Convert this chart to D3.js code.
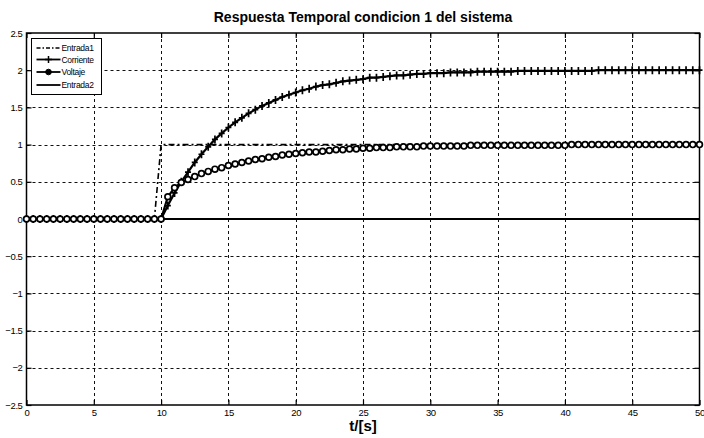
<!DOCTYPE html>
<html>
<head>
<meta charset="utf-8">
<script src="https://cdn.jsdelivr.net/npm/d3@7"></script>
<style>
  body { margin: 0; background: #fff; }
  svg { font-family: "Liberation Sans", Arial, sans-serif; }
</style>
</head>
<body>
<div id="plot"></div>
<script>
// sample times (s)
const tiempo = [0,0.5,1,1.5,2,2.5,3,3.5,4,4.5,5,5.5,6,6.5,7,7.5,8,8.5,9,9.5,
  10,10.5,11,11.5,12,12.5,13,13.5,14,14.5,15,15.5,16,16.5,17,17.5,18,18.5,19,19.5,
  20,20.5,21,21.5,22,22.5,23,23.5,24,24.5,25,25.5,26,26.5,27,27.5,28,28.5,29,29.5,
  30,30.5,31,31.5,32,32.5,33,33.5,34,34.5,35,35.5,36,36.5,37,37.5,38,38.5,39,39.5,
  40,40.5,41,41.5,42,42.5,43,43.5,44,44.5,45,45.5,46,46.5,47,47.5,48,48.5,49,49.5,50];

const entrada1 = [0,0,0,0,0,0,0,0,0,0,0,0,0,0,0,0,0,0,0,0,
  1,1,1,1,1,1,1,1,1,1,1,1,1,1,1,1,1,1,1,1,
  1,1,1,1,1,1,1,1,1,1,1,1,1,1,1,1,1,1,1,1,
  1,1,1,1,1,1,1,1,1,1,1,1,1,1,1,1,1,1,1,1,
  1,1,1,1,1,1,1,1,1,1,1,1,1,1,1,1,1,1,1,1,1];

const corriente = [0,0,0,0,0,0,0,0,0,0,0,0,0,0,0,0,0,0,0,0,0,
  0.18,0.35,0.50,0.63,0.76,0.87,0.97,1.07,1.15,1.23,
  1.30,1.36,1.42,1.47,1.52,1.56,1.60,1.64,1.67,1.70,
  1.73,1.75,1.78,1.80,1.81,1.83,1.85,1.86,1.87,1.88,
  1.90,1.90,1.91,1.92,1.93,1.93,1.94,1.95,1.95,1.96,
  1.96,1.96,1.97,1.97,1.97,1.97,1.98,1.98,1.98,1.98,
  1.98,1.98,1.99,1.99,1.99,1.99,1.99,1.99,1.99,1.99,
  1.99,1.99,1.99,1.99,2.00,2.00,2.00,2.00,2.00,2.00,
  2.00,2.00,2.00,2.00,2.00,2.00,2.00,2.00,2.00,2.00];

const voltaje = [0,0,0,0,0,0,0,0,0,0,0,0,0,0,0,0,0,0,0,0,0,
  0.30,0.42,0.49,0.53,0.57,0.61,0.64,0.67,0.69,0.72,
  0.74,0.76,0.78,0.80,0.81,0.83,0.84,0.86,0.87,0.88,
  0.89,0.90,0.90,0.91,0.92,0.93,0.93,0.94,0.94,0.95,
  0.95,0.96,0.96,0.96,0.97,0.97,0.97,0.97,0.98,0.98,
  0.98,0.98,0.98,0.98,0.98,0.99,0.99,0.99,0.99,0.99,
  0.99,0.99,0.99,0.99,0.99,0.99,0.99,0.99,0.99,0.99,
  1.00,1.00,1.00,1.00,1.00,1.00,1.00,1.00,1.00,1.00,
  1.00,1.00,1.00,1.00,1.00,1.00,1.00,1.00,1.00,1.00];

const entrada2 = tiempo.map(() => 0);

const xTicks = [0,5,10,15,20,25,30,35,40,45,50];
const yTicks = [-2.5,-2,-1.5,-1,-0.5,0,0.5,1,1.5,2,2.5];
const nombres = ["Entrada1","Corriente","Voltaje","Entrada2"];

const W = 704, H = 438;
const pLeft = 26.5, pRight = 699.5, pTop = 33, pBottom = 405;

const svg = d3.select("#plot").append("svg")
  .attr("width", W).attr("height", H);

const x = d3.scaleLinear().domain([0,50]).range([pLeft, pRight]);
const y = d3.scaleLinear().domain([-2.5,2.5]).range([pBottom, pTop]);

// grid
const grid = svg.append("g").attr("stroke", "#111").attr("stroke-width", 1)
  .attr("stroke-dasharray", "3,3");
grid.selectAll(".gx").data(xTicks.slice(1, -1)).enter().append("line")
  .attr("x1", d => Math.round(x(d)) + 0.5).attr("x2", d => Math.round(x(d)) + 0.5)
  .attr("y1", pTop).attr("y2", pBottom);
grid.selectAll(".gy").data(yTicks.slice(1, -1)).enter().append("line")
  .attr("y1", d => Math.round(y(d)) + 0.5).attr("y2", d => Math.round(y(d)) + 0.5)
  .attr("x1", pLeft).attr("x2", pRight);

// axes
function styleAxis(g) {
  g.select(".domain").remove();
  g.selectAll(".tick line").attr("stroke", "#000").attr("stroke-width", 1.2);
  g.selectAll(".tick text").attr("font-size", 9.5).attr("fill", "#000")
    .attr("letter-spacing", -0.4);
}
svg.append("g").attr("transform", `translate(0,${pBottom})`)
  .call(d3.axisBottom(x).tickValues(xTicks).tickSize(-5).tickPadding(4).tickFormat(d3.format("")))
  .call(styleAxis);
svg.append("g").attr("transform", `translate(0,${pTop})`)
  .call(d3.axisTop(x).tickValues(xTicks).tickSize(-5).tickFormat(""))
  .call(styleAxis);
svg.append("g").attr("transform", `translate(${pLeft},0)`)
  .call(d3.axisLeft(y).tickValues(yTicks).tickSize(-5).tickPadding(4).tickFormat(d3.format("")))
  .call(styleAxis);
svg.append("g").attr("transform", `translate(${pRight},0)`)
  .call(d3.axisRight(y).tickValues(yTicks).tickSize(-5).tickFormat(""))
  .call(styleAxis);

svg.append("rect").attr("x", pLeft).attr("y", pTop)
  .attr("width", pRight - pLeft).attr("height", pBottom - pTop)
  .attr("fill", "none").attr("stroke", "#000").attr("stroke-width", 1.5);

// series
const line = d3.line().x((d, i) => x(tiempo[i])).y(d => y(d));
const lines = svg.append("g").attr("fill", "none").attr("stroke", "#000");

lines.append("path").datum(entrada2).attr("d", line).attr("stroke-width", 2.2);
lines.append("path").datum(entrada1).attr("d", line).attr("stroke-width", 1.6)
  .attr("stroke-dasharray", "6,3,2,3");
lines.append("path").datum(corriente).attr("d", line).attr("stroke-width", 2.2);
lines.append("path").datum(voltaje).attr("d", line).attr("stroke-width", 2.2);

// markers
const mk = svg.append("g").attr("stroke", "#000").attr("fill", "none");
mk.selectAll(".plus").data(corriente).enter().append("path")
  .attr("d", (d, i) => {
    const cx = x(tiempo[i]), cy = y(d);
    return `M${cx - 3},${cy}H${cx + 3}M${cx},${cy - 4}V${cy + 4}`;
  })
  .attr("stroke-width", 1.7);
mk.selectAll(".circ").data(voltaje).enter().append("circle")
  .attr("cx", (d, i) => x(tiempo[i])).attr("cy", d => y(d))
  .attr("r", 2.9).attr("stroke-width", 1.7).attr("fill", "#fff");

// legend
const lg = svg.append("g").attr("transform", "translate(31.5,38.5)");
lg.append("rect").attr("width", 70).attr("height", 56)
  .attr("fill", "#fff").attr("stroke", "#000").attr("stroke-width", 1);
const rowY = [9.5, 21, 33.5, 46.5];
nombres.forEach((n, i) => {
  const g = lg.append("g").attr("transform", `translate(0,${rowY[i]})`);
  const ln = g.append("line").attr("x1", 5).attr("x2", 29).attr("stroke", "#000")
    .attr("stroke-width", i === 0 ? 1.4 : 1.8);
  if (i === 0) ln.attr("stroke-dasharray", "4,2,1.5,2");
  if (i === 1) g.append("path").attr("d", "M17,-3.5V3.5M13.5,0H20.5")
    .attr("stroke", "#000").attr("stroke-width", 1.5);
  if (i === 2) g.append("circle").attr("cx", 17).attr("r", 2.8)
    .attr("fill", "#000").attr("stroke", "#000");
  g.append("text").attr("x", 30).attr("y", 3).attr("font-size", 8.5)
    .attr("letter-spacing", -0.3).text(n);
});

// title and label
svg.append("text").attr("x", (pLeft + pRight) / 2).attr("y", 22)
  .attr("text-anchor", "middle").attr("font-size", 14).attr("font-weight", "bold")
  .text("Respuesta Temporal condicion 1 del sistema");
svg.append("text").attr("x", (pLeft + pRight) / 2).attr("y", 431)
  .attr("text-anchor", "middle").attr("font-size", 15).attr("font-weight", "bold")
  .text("t/[s]");
</script>
</body>
</html>
